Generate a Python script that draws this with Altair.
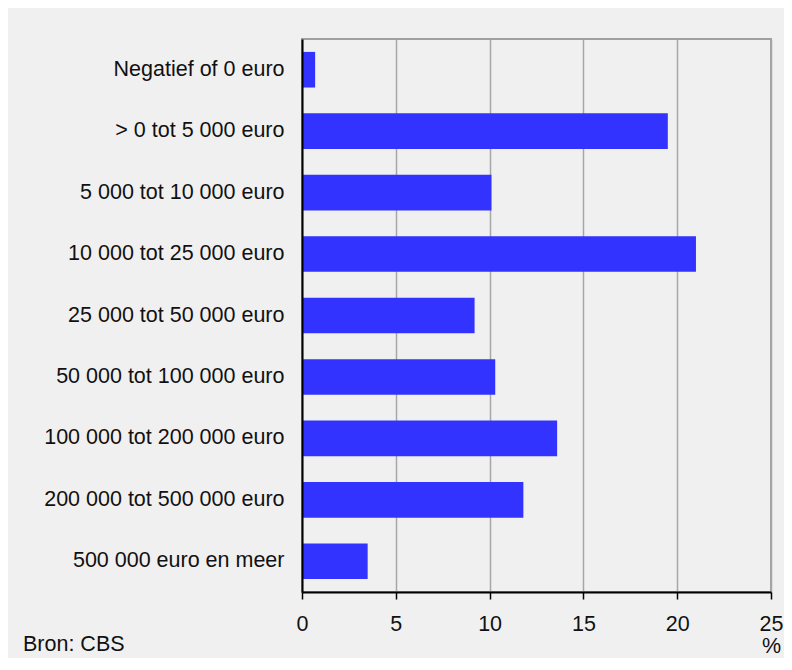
import altair as alt
import pandas as pd

categories = [
    "Negatief of 0 euro",
    "> 0 tot 5 000 euro",
    "5 000 tot 10 000 euro",
    "10 000 tot 25 000 euro",
    "25 000 tot 50 000 euro",
    "50 000 tot 100 000 euro",
    "100 000 tot 200 000 euro",
    "200 000 tot 500 000 euro",
    "500 000 euro en meer",
]
values = [0.7, 19.5, 10.1, 21.0, 9.2, 10.3, 13.6, 11.8, 3.5]
x_ticks = [0, 5, 10, 15, 20, 25]
unit = "%"
source = "Bron: CBS"

FONT = "Liberation Sans"
FS = 21.5
BG = "#f0f0f0"

df = pd.DataFrame({"cat": categories, "pct": values})
src_df = pd.DataFrame({"t": [source]})

bars = alt.Chart(df).mark_bar(color="#3333ff").encode(
    x=alt.X(
        "pct:Q",
        scale=alt.Scale(domain=[0, 25], nice=False, zero=True),
        axis=alt.Axis(
            values=x_ticks,
            title=unit,
            grid=True,
            gridColor="#a6a6a6",
            gridWidth=1.5,
            domainColor="#000000",
            domainWidth=2,
            tickColor="#000000",
            tickSize=7,
            tickWidth=1.5,
            labelPadding=14,
            labelOffset=0,
            labelFlush=False,
            labelFont=FONT,
            labelFontSize=FS,
            labelColor="#111111",
            titleFont=FONT,
            titleFontSize=FS,
            titleFontWeight="normal",
            titleColor="#111111",
            titleX=469,
            titleY=54,
            titleAlign="center",
            titleBaseline="middle",
        ),
    ),
    y=alt.Y(
        "cat:N",
        sort=categories,
        scale=alt.Scale(paddingInner=0.42, paddingOuter=0.21),
        axis=alt.Axis(
            title=None,
            ticks=False,
            grid=False,
            labelPadding=18,
            domainColor="#000000",
            domainWidth=2,
            labelFont=FONT,
            labelFontSize=FS,
            labelColor="#111111",
            labelLimit=400,
            zindex=1,
        ),
    ),
)

note = alt.Chart(src_df).mark_text(
    align="left", baseline="alphabetic", font=FONT, fontSize=FS, color="#111111"
).encode(x=alt.value(-279), y=alt.value(612), text="t:N")

chart = alt.layer(bars, note).properties(
    width=469,
    height=553,
    autosize=alt.AutoSizeParams(type="none"),
    padding={"left": 294, "top": 31, "right": 13, "bottom": 66},
    background=BG,
).configure_view(stroke="#a0a0a0", strokeWidth=2, fill=BG)

chart.save("out.html", embed_options={"renderer": "svg", "actions": False})
